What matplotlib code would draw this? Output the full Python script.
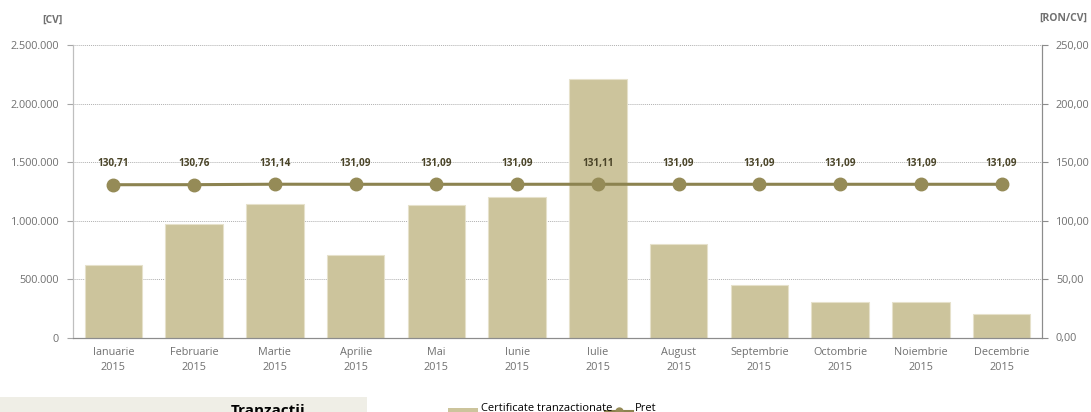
import matplotlib
matplotlib.use('Agg')
import matplotlib.pyplot as plt
from matplotlib.ticker import FuncFormatter, MultipleLocator
from matplotlib.patches import Rectangle
from matplotlib.lines import Line2D
import numpy as np

plt.rcParams['font.family'] = ['Open Sans', 'DejaVu Sans']

#################### DATA ##############################
luni = ['Ianuarie', 'Februarie', 'Martie', 'Aprilie', 'Mai', 'Iunie', 'Iulie',
        'August', 'Septembrie', 'Octombrie', 'Noiembrie', 'Decembrie']
an = '2015'
certificate = [619000, 967000, 1142000, 702000, 1136000, 1202000, 2209000,
               796000, 445000, 302000, 308000, 199000]
pret = [130.71, 130.76, 131.14, 131.09, 131.09, 131.09, 131.11,
        131.09, 131.09, 131.09, 131.09, 131.09]

#################### PLOT ##############################
bar_col = '#CCC49C'
line_col = '#8C8350'
txt_gray = '#707070'
W, H = 1091, 412

fig = plt.figure(figsize=(10.91, 4.12), dpi=100)
ax = fig.add_axes([73/W, 74.5/H, 969/W, 292.2/H])
ax2 = ax.twinx()

x = np.arange(len(luni))
ax.bar(x, certificate, width=0.71, color=bar_col, edgecolor='#E6E1CB', lw=0.8, zorder=2)
ax.set_xlim(-0.5, 11.5)
ax.set_ylim(0, 2500000)
ax.yaxis.set_major_locator(MultipleLocator(500000))
ax.yaxis.set_major_formatter(FuncFormatter(lambda v, p: '{:,.0f}'.format(v).replace(',', '.')))
ax.grid(axis='y', color='#B0B0B0', ls=(0, (1, 1)), lw=0.7, zorder=0)
ax.set_axisbelow(True)
ax.set_xticks(x)
ax.set_xticklabels([m + '\n' + an for m in luni], fontsize=7.8, color=txt_gray, linespacing=1.45)
ax.tick_params(axis='x', length=0, pad=7)
ax.tick_params(axis='y', length=4, width=0.8, color='#A6A6A6', labelsize=7.8, labelcolor=txt_gray, pad=6)

ax2.plot(x, pret, color=line_col, lw=2.2, marker='o', ms=9, mfc='#958B57', mec='#958B57', zorder=5)
ax2.set_ylim(0, 250)
ax2.yaxis.set_major_locator(MultipleLocator(50))
ax2.yaxis.set_major_formatter(FuncFormatter(lambda v, p: '{:.2f}'.format(v).replace('.', ',')))
ax2.tick_params(axis='y', length=4, width=0.8, color='#8C8C8C', labelsize=7.8, labelcolor=txt_gray, pad=6)
for xi, p in zip(x, pret):
    ax2.annotate('{:.2f}'.format(p).replace('.', ','), (xi, p), xytext=(0, 11), textcoords='offset points',
                 ha='center', va='bottom', fontsize=7.2, fontweight='bold', color='#4A4428')

for a in (ax, ax2):
    a.spines['top'].set_visible(False)
    a.spines['left'].set_color('#BFBFBF')
    a.spines['right'].set_color('#8C8C8C')
    a.spines['bottom'].set_color('#8C8C8C')

fig.text(52/W, 1 - 20/H, '[CV]', fontsize=7.5, fontweight='bold', color=txt_gray, ha='center', va='center')
fig.text(1063/W, 1 - 18/H, '[RON/CV]', fontsize=7.5, fontweight='bold', color=txt_gray, ha='center', va='center')

# partial panel and legend below the chart (cut by the figure edge, as in the source)
fig.patches.append(Rectangle((0, 0), 367/W, 15/H, transform=fig.transFigure,
                             facecolor='#EFEEE6', edgecolor='none'))
fig.text(268/W, (H - 404)/H, 'Tranzactii', fontsize=11, fontweight='bold', color='black',
         ha='center', va='top')

fig.patches.append(Rectangle((448/W, 0), 30/W, 4/H, transform=fig.transFigure,
                             facecolor=bar_col, edgecolor='none'))
fig.text(481/W, (H - 403)/H, 'Certificate tranzactionate', fontsize=8, color='black', ha='left', va='top')
fig.lines.append(Line2D([605/W, 632/W], [1.5/H, 1.5/H], transform=fig.transFigure,
                        color=line_col, lw=2.2))
fig.lines.append(Line2D([618.5/W], [1.5/H], transform=fig.transFigure, marker='o', ms=5,
                        mfc='#958B57', mec='#958B57'))
fig.text(635/W, (H - 403)/H, 'Pret', fontsize=8, color='black', ha='left', va='top')

fig.savefig('out.png', dpi=100)
